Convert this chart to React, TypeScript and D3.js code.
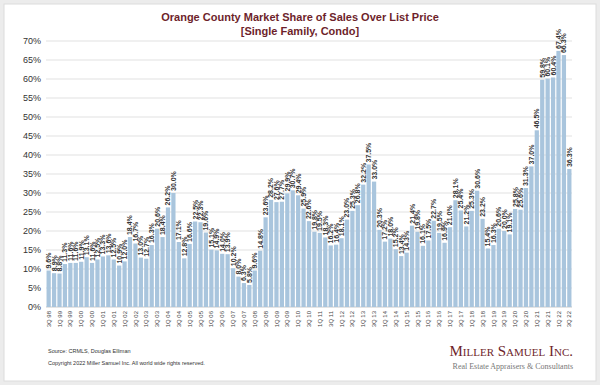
import React from "react";
import * as d3 from "d3";

const quarters: string[] = [];
(() => {
  const list: string[] = [];
  for (let y = 1998; y <= 2022; y++) {
    for (let q = 1; q <= 4; q++) {
      if (y === 1998 && q < 3) continue;
      if (y === 2022 && q > 3) continue;
      list.push(`${q}Q ${String(y % 100).padStart(2, "0")}`);
    }
  }
  quarters.push(...list);
})();

const values: number[] = [
  9.6, 8.9, 8.8, 11.3, 11.6, 11.6, 11.9, 13.1, 11.6, 12.5,
  13.3, 13.6, 12.5, 10.9, 12.0, 18.4, 16.7, 13.0, 12.7, 16.3,
  20.6, 18.4, 26.2, 30.0, 17.1, 12.8, 16.6, 22.5, 22.3, 19.6,
  15.1, 14.9, 14.0, 13.9, 10.2, 8.0, 6.3, 5.8, 9.6, 14.8,
  23.6, 28.2, 27.6, 27.7, 29.9, 30.7, 29.4, 25.9, 22.6, 19.8,
  19.5, 18.3, 16.2, 16.4, 18.1, 23.0, 25.3, 26.8, 32.2, 37.5,
  33.0, 20.3, 17.2, 18.0, 15.2, 13.4, 14.3, 21.4, 19.8, 16.1,
  17.5, 22.7, 19.5, 16.9, 21.0, 28.1, 25.4, 21.2, 25.3, 30.6,
  23.2, 15.4, 16.3, 20.6, 20.0, 19.1, 25.8, 25.6, 31.3, 37.0,
  46.5, 59.8, 60.1, 60.4, 67.4, 66.3, 36.3,
];

const yTicks: number[] = [0, 5, 10, 15, 20, 25, 30, 35, 40, 45, 50, 55, 60, 65, 70];

const titleLines: string[] = [
  "Orange County Market Share of Sales Over List Price",
  "[Single Family, Condo]",
];

export default function App() {
  const W = 600, H = 385;
  const left = 46, right = 572, top = 41, bottom = 307;
  const x = d3.scaleBand<number>().domain(values.map((_, i) => i)).range([left, right]).paddingInner(0.22).paddingOuter(0.1);
  const y = d3.scaleLinear().domain([0, 70]).range([bottom, top]);
  const font = "Liberation Sans, Arial, sans-serif";
  return (
    <svg width={W} height={H} style={{ position: "fixed", left: 0, top: 0 }} fontFamily={font}>
      <rect x={0} y={0} width={W} height={H} fill="#ececec" />
      <rect x={4} y={4} width={592} height={377} fill="#ffffff" stroke="#dcdcdc" />
      {titleLines.map((t, i) => (
        <text key={i} x={300} y={21 + i * 14} textAnchor="middle" fontSize={11} fontWeight="bold" fill="#6e1f2b">{t}</text>
      ))}
      {yTicks.map((t) => (
        <g key={t}>
          <line x1={left} x2={right} y1={y(t)} y2={y(t)} stroke={t === 0 ? "#bbbbbb" : "#d9d9d9"} strokeWidth={0.8} />
          <text x={41} y={y(t)} dy="0.35em" textAnchor="end" fontSize={9} fill="#333">{t}%</text>
        </g>
      ))}
      {values.map((v, i) => (
        <rect key={i} x={x(i)} y={y(v)} width={x.bandwidth()} height={bottom - y(v)} fill="#a9c5dd" />
      ))}
      {values.map((v, i) => {
        const cx = (x(i) as number) + x.bandwidth() / 2;
        const cy = y(v) - 2;
        return (
          <text key={i} transform={`translate(${cx},${cy}) rotate(-90)`} dy="0.35em" textAnchor="start" fontSize={7} fontWeight="bold" fill="#333">
            {v.toFixed(1)}%
          </text>
        );
      })}
      {quarters.map((q, i) => {
        if (i % 2 !== 0) return null;
        const cx = (x(i) as number) + x.bandwidth() / 2;
        return (
          <text key={q} transform={`translate(${cx},${bottom + 4}) rotate(-90)`} dy="0.35em" textAnchor="end" fontSize={6} fill="#444">{q}</text>
        );
      })}
      <text x={48} y={353} fontSize={5.5} fill="#333">Source: CRMLS, Douglas Elliman</text>
      <text x={48} y={365} fontSize={5.5} fill="#333">Copyright 2022 Miller Samuel Inc.  All world wide rights reserved.</text>
      <text x={573} y={356} textAnchor="end" fontFamily="Liberation Serif, Times New Roman, serif" fontSize={15} fill="#6e1f2b" style={{ fontVariant: "small-caps" }}>Miller Samuel Inc.</text>
      <text x={573} y={369} textAnchor="end" fontFamily="Liberation Serif, Times New Roman, serif" fontSize={8} fill="#777">Real Estate Appraisers &amp; Consultants</text>
    </svg>
  );
}
